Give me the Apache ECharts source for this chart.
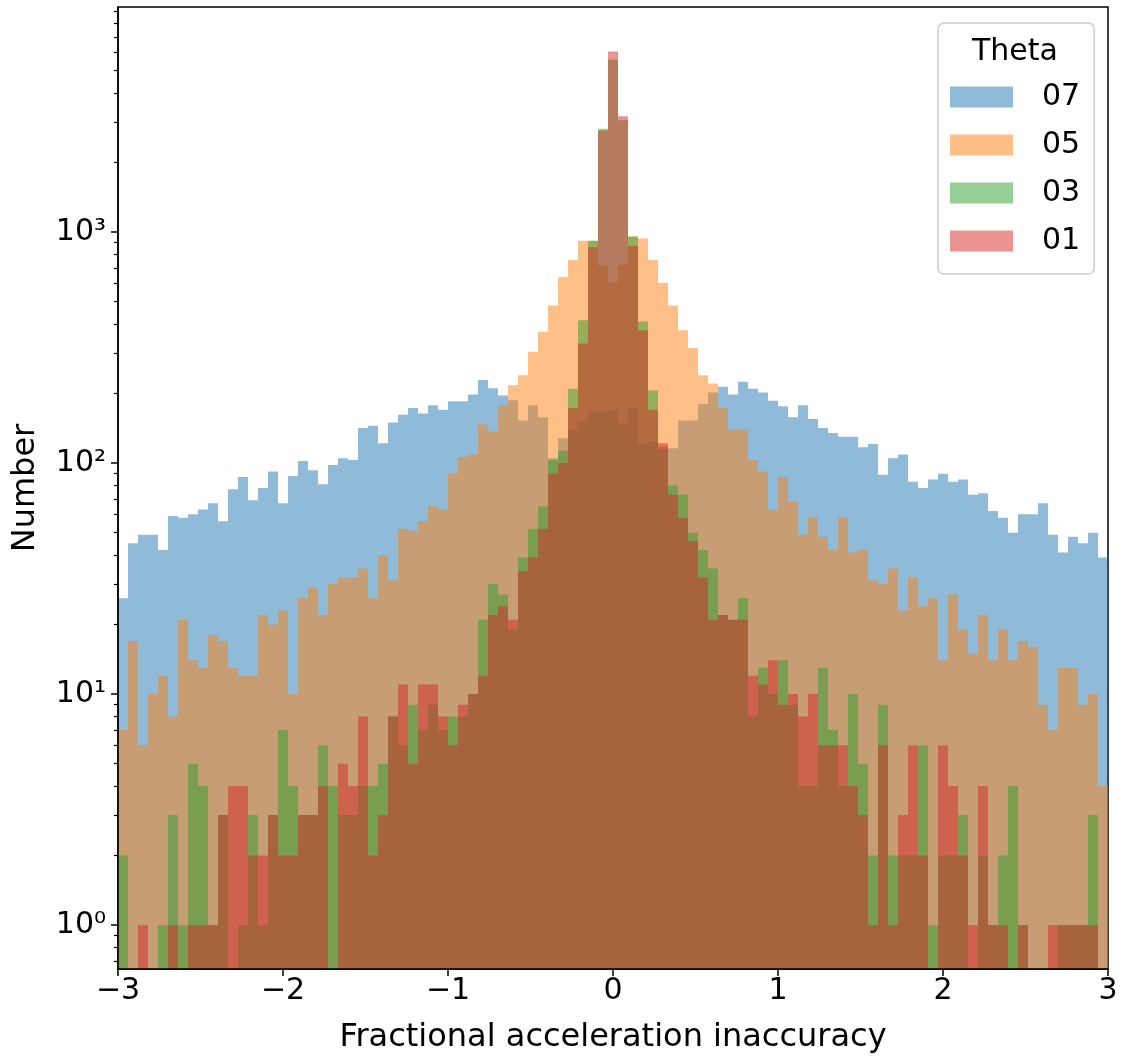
<!DOCTYPE html>
<html><head><meta charset="utf-8">
<script src="https://cdn.jsdelivr.net/npm/echarts@6/dist/echarts.min.js"></script>
<style>html,body{margin:0;padding:0;background:#fff}#chart{width:1128px;height:1059px}</style>
</head><body><div id="chart"></div>
<script>
// ---- data ----
const binStart = -3, binStop = 3, binCount = 99;
const seriesNames = ['07', '05', '03', '01'];
const seriesColors = ['rgba(31,119,180,0.5)', 'rgba(255,127,14,0.5)', 'rgba(44,160,44,0.5)', 'rgba(214,39,40,0.5)'];
const counts07 = [26,45,49,49,42,59,58,60,63,67,
  56,77,87,69,78,92,67,88,102,93,
  81,98,105,103,142,145,122,150,162,173,
  164,178,170,185,185,198,229,211,196,187,
  153,178,158,105,128,139,151,167,167,170,
  149,173,121,124,118,116,153,153,180,202,
  214,198,225,210,202,186,176,158,178,155,
  142,135,130,130,117,121,89,105,109,83,
  78,85,90,83,85,73,74,62,58,50,
  60,60,67,49,41,48,45,50,39];
const counts05 = [7,17,6,10,12,8,21,14,13,18,
  17,13,12,12,22,20,23,10,26,29,
  22,30,32,32,35,26,40,31,52,51,
  56,65,63,90,106,109,147,137,178,217,
  240,303,370,481,638,757,918,918,716,607,
  721,957,938,757,603,481,376,315,240,221,
  173,140,140,103,92,63,87,68,49,58,
  48,42,58,41,42,31,30,35,23,32,
  24,26,14,27,19,15,22,14,19,14,
  17,16,9,7,13,13,9,10,4];
const counts03 = [2,0,0,0,1,3,1,5,4,1,
  3,0,1,3,1,3,7,4,3,3,
  6,4,3,3,4,4,5,8,6,9,
  7,9,7,8,8,10,21,30,27,19,
  39,52,65,103,113,210,415,918,2800,5570,
  3050,957,410,206,115,80,73,50,42,35,
  22,21,26,8,13,10,14,9,4,4,
  13,7,4,10,5,2,9,2,2,2,
  6,1,2,2,3,0,2,1,2,4,
  1,0,0,0,1,1,1,3,0];
const counts01 = [0,0,1,0,0,1,0,1,1,1,
  3,4,4,2,2,3,2,2,3,3,
  4,0,5,4,8,2,3,8,11,5,
  11,11,8,6,9,10,12,22,24,21,
  34,39,52,90,100,173,329,859,2750,6050,
  3170,873,376,170,122,73,58,46,32,21,
  22,21,21,12,11,14,9,10,8,10,
  6,6,6,4,3,1,6,1,3,6,
  2,0,6,4,2,1,4,1,1,0,
  1,0,0,1,1,1,1,1,0];
const xTicks = [-3, -2, -1, 0, 1, 2, 3];
const yMajorTicks = [1, 10, 100, 1000];
const yMajorLabels = ['10\u2070', '10\u00b9', '10\u00b2', '10\u00b3'];
const yMinorTicks = [0.7,0.8,0.9, 2,3,4,5,6,7,8,9, 20,30,40,50,60,70,80,90,
  200,300,400,500,600,700,800,900, 2000,3000,4000,5000,6000,7000,8000,9000];
const yMin = 0.646, yMax = 9420;
const allCounts = [counts07, counts05, counts03, counts01];

// bin edges (np.linspace(-3, 3, 100))
const edges = [];
for (let i = 0; i <= binCount; i++) edges.push(binStart + (binStop - binStart) * i / binCount);

const FONT = 'DejaVu Sans';
const chart = echarts.init(document.getElementById('chart'), null, {renderer: 'canvas'});

function histSeries(idx) {
  const counts = allCounts[idx];
  const color = seriesColors[idx];
  const data = [];
  counts.forEach((c, i) => { if (c > 0) data.push([edges[i], edges[i + 1], c]); });
  return {
    type: 'custom', name: seriesNames[idx], data: data,
    encode: {x: [0, 1], y: 2},
    itemStyle: {color: color},
    z: 2 + idx,
    renderItem: function (params, api) {
      const p0 = api.coord([api.value(0), api.value(2)]);
      const p1 = api.coord([api.value(1), yMin]);
      return {
        type: 'rect',
        shape: {x: p0[0], y: p0[1], width: p1[0] - p0[0], height: p1[1] - p0[1]},
        style: {fill: color}
      };
    }
  };
}

const option = {
  animation: false,
  backgroundColor: '#fff',
  grid: {left: 118, right: 20, top: 7, bottom: 86, show: true, borderColor: '#000', borderWidth: 1.5, backgroundColor: 'transparent'},
  xAxis: {
    type: 'value', min: -3, max: 3, interval: 1, z: 20,
    axisLine: {show: true, onZero: false, lineStyle: {color: '#000', width: 1.5}},
    splitLine: {show: false},
    axisTick: {show: true, length: 7, inside: false, lineStyle: {color: '#000', width: 1.5}},
    axisLabel: {fontSize: 30, fontFamily: FONT, color: '#000', margin: 7,
      formatter: v => (v < 0 ? '\u2212' + (-v) : String(v))},
    name: 'Fractional acceleration inaccuracy', nameLocation: 'middle', nameGap: 53,
    nameTextStyle: {fontSize: 32, fontFamily: FONT, color: '#000'}
  },
  yAxis: [{
    type: 'log', logBase: 10, min: yMin, max: yMax, z: 20, position: 'left',
    axisLine: {show: true, onZero: false, lineStyle: {color: '#000', width: 1.5}},
    splitLine: {show: false},
    axisTick: {show: true, length: 7, inside: false, customValues: yMajorTicks, lineStyle: {color: '#000', width: 1.5}},
    axisLabel: {customValues: yMajorTicks, fontSize: 30, fontFamily: FONT, color: '#000', margin: 12,
      formatter: v => yMajorLabels[Math.round(Math.log10(v))]},
    name: 'Number', nameLocation: 'middle', nameGap: 76, nameRotate: 90,
    nameTextStyle: {fontSize: 32, fontFamily: FONT, color: '#000'}
  }, {
    type: 'log', logBase: 10, min: yMin, max: yMax, position: 'left', z: 20,
    axisLine: {show: false, onZero: false}, splitLine: {show: false},
    axisTick: {show: true, length: 4, inside: false, customValues: yMinorTicks, lineStyle: {color: '#000', width: 1.2}},
    axisLabel: {show: false}
  }],
  legend: {
    data: seriesNames, orient: 'vertical', left: 938, top: 23,
    itemWidth: 63, itemHeight: 21, itemGap: 18, icon: 'rect', selectedMode: false,
    padding: [59, 14, 18, 12],
    backgroundColor: 'rgba(255,255,255,0.8)', borderColor: '#cccccc', borderWidth: 1.5, borderRadius: 6,
    textStyle: {fontSize: 30, fontFamily: FONT, color: '#000', padding: [0, 0, 0, 24], lineHeight: 30}
  },
  graphic: [{
    type: 'text', x: 1015, y: 52, z: 100,
    style: {text: 'Theta', fontSize: 30, fontFamily: FONT, fill: '#000', align: 'center', verticalAlign: 'middle'}
  }],
  series: [0, 1, 2, 3].map(histSeries)
};
chart.setOption(option);
</script>
</body></html>
